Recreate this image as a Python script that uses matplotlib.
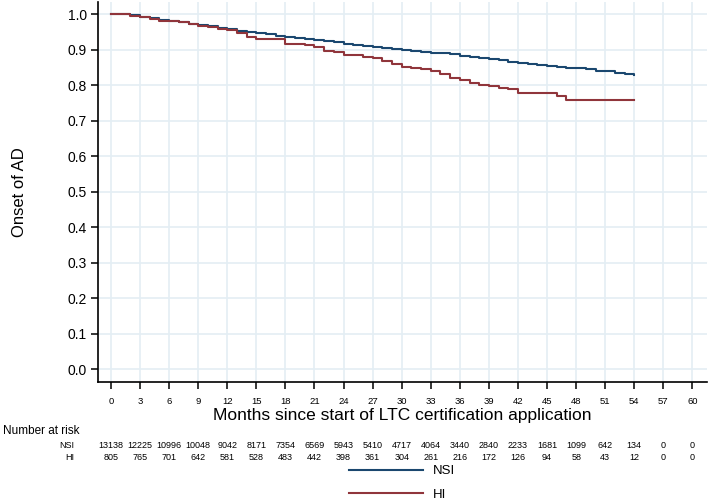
import numpy as np
import matplotlib.pyplot as plt
import matplotlib.transforms as mtransforms
from matplotlib.lines import Line2D

plt.rcParams['font.family'] = ['Liberation Sans', 'DejaVu Sans']

# Kaplan-Meier estimates (one value per month)
months = np.arange(0, 55)
nsi_surv = [1.000, 1.000, 0.996, 0.992, 0.988, 0.984, 0.980, 0.977, 0.973, 0.969,
            0.965, 0.961, 0.957, 0.953, 0.949, 0.946, 0.943, 0.939, 0.936, 0.933,
            0.930, 0.927, 0.923, 0.920, 0.916, 0.913, 0.910, 0.907, 0.904, 0.901,
            0.898, 0.895, 0.893, 0.891, 0.889, 0.887, 0.883, 0.880, 0.876, 0.873,
            0.870, 0.866, 0.863, 0.860, 0.857, 0.854, 0.852, 0.849, 0.847, 0.844,
            0.841, 0.839, 0.833, 0.830, 0.827]
hi_surv = [1.000, 1.000, 0.995, 0.992, 0.986, 0.981, 0.981, 0.977, 0.973, 0.967,
           0.963, 0.958, 0.955, 0.948, 0.934, 0.930, 0.930, 0.929, 0.917, 0.915,
           0.913, 0.906, 0.897, 0.894, 0.886, 0.886, 0.880, 0.875, 0.867, 0.859,
           0.852, 0.849, 0.845, 0.839, 0.830, 0.821, 0.814, 0.805, 0.800, 0.797,
           0.791, 0.790, 0.779, 0.779, 0.779, 0.779, 0.770, 0.758, 0.758, 0.758,
           0.758, 0.758, 0.758, 0.758, 0.758]

risk_months = np.arange(0, 61, 3)
nsi_risk = [13138, 12225, 10996, 10048, 9042, 8171, 7354, 6569, 5943, 5410, 4717,
            4064, 3440, 2840, 2233, 1681, 1099, 642, 134, 0, 0]
hi_risk = [805, 765, 701, 642, 581, 528, 483, 442, 398, 361, 304,
           261, 216, 172, 126, 94, 58, 43, 12, 0, 0]

nsi_col = '#1a476f'
hi_col = '#90353b'
grid_col = '#e4eef4'

fig = plt.figure(figsize=(7.08, 5.01), dpi=100)
ax = fig.add_axes([0.1384, 0.2375, 0.8602, 0.7585])

ax.step(months, nsi_surv, where='post', color=nsi_col, lw=1.5, zorder=3)
ax.step(months, hi_surv, where='post', color=hi_col, lw=1.5, zorder=3)

ax.set_xlim(-1.34, 61.5)
ax.set_ylim(-0.0366, 1.034)
ax.set_xticks(risk_months)
ax.set_yticks(np.arange(0, 1.01, 0.1))
ax.set_yticklabels(['%.1f' % v for v in np.arange(0, 1.01, 0.1)])
ax.grid(True, color=grid_col, lw=1.2)
ax.set_axisbelow(True)
for s in ['top', 'right']:
    ax.spines[s].set_visible(False)
for s in ['left', 'bottom']:
    ax.spines[s].set_linewidth(1.2)
ax.tick_params(axis='x', labelsize=6.8, length=5, width=1.1, pad=6)
ax.tick_params(axis='y', labelsize=10, length=5, width=1.1, pad=3)
ax.set_ylabel('Onset of AD', fontsize=12, labelpad=29)
ax.set_xlabel('Months since start of LTC certification application', fontsize=12.5, labelpad=1)

# number at risk table
tr = mtransforms.blended_transform_factory(ax.transData, fig.transFigure)
fig.text(0.004, 1 - 431 / 501, 'Number at risk', fontsize=8.5, va='center', ha='left')
row_y = [1 - 446 / 501, 1 - 457 / 501]
for name, vals, y in [('NSI', nsi_risk, row_y[0]), ('HI', hi_risk, row_y[1])]:
    fig.text(74 / 708, y, name, fontsize=6.5, va='center', ha='right')
    for m, v in zip(risk_months, vals):
        ax.text(m, y, str(v), transform=tr, fontsize=6.5, va='center', ha='center')

handles = [Line2D([], [], color=nsi_col, lw=1.5), Line2D([], [], color=hi_col, lw=1.5)]
fig.legend(handles, ['NSI', 'HI'], loc='center', bbox_to_anchor=(0.568, 1 - 483 / 501),
           frameon=False, fontsize=9.5, handlelength=5.6, labelspacing=0.85, handletextpad=0.8)

fig.savefig('out.png', dpi=100)
